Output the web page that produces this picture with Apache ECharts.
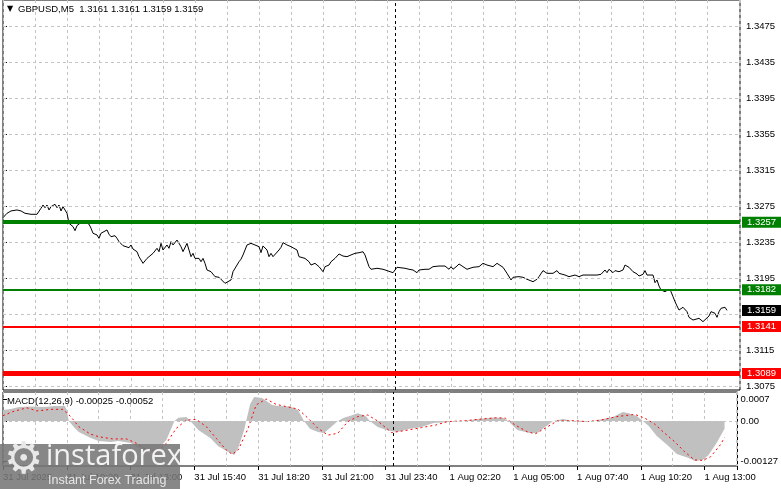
<!DOCTYPE html>
<html><head><meta charset="utf-8">
<script src="https://cdn.jsdelivr.net/npm/echarts@6.0.0/dist/echarts.min.js"></script>
<style>html,body{margin:0;padding:0;background:#fff}#c{width:781px;height:489px}</style>
</head><body><div id="c"></div>
<script>
// ---------------- data ----------------
const timeLabels = ['31 Jul 2025','31 Jul 10:20','31 Jul 13:00','31 Jul 15:40','31 Jul 18:20','31 Jul 21:00','31 Jul 23:40','1 Aug 02:20','1 Aug 05:00','1 Aug 07:40','1 Aug 10:20','1 Aug 13:00'];
// bar index (M5 bars from 31 Jul 07:40) and close price
const priceBars = [0,2,4,5,7,8,9,11,14,15,17,18,19,20,21,22,23,24,26,27,28,29,30,31,32,33,34,35,36,37,38,40,41,43,44,45,47,48,49,50,52,53,54,56,57,58,60,61,63,64,65,67,68,70,72,73,75,76,77,78,79,80,82,83,84,85,87,88,89,90,92,93,94,95,96,98,99,100,101,102,104,106,108,109,111,112,114,115,118,119,120,121,122,124,126,128,129,130,132,133,134,135,138,139,140,142,144,147,148,151,153,154,156,158,160,161,163,164,166,168,170,172,174,176,178,180,181,183,184,185,187,188,190,192,193,195,196,197,198,201,203,205,207,208,211,213,215,218,219,221,223,224,225,227,228,230,232,233,235,238,240,242,243,245,247,248,250,252,254,255,258,259,260,262,263,265,267,268,270,272,273,275,277,278,281,283,284,286,287,288,290,293,295,297,299,301,302,303,305,306,308,310,311,313,314,315,317,318,320,321,322,323,325,326,327,328,329,330,331,333,334,335,336,337,338,340,341,342,343,345,346,348,349,350,351,353,354,355,356,357,358,359,361,362];
const priceValues = [1.32620,1.32669,1.32695,1.32687,1.32706,1.32687,1.32695,1.32669,1.32658,1.32650,1.32658,1.32669,1.32725,1.32761,1.32731,1.32761,1.32706,1.32743,1.32769,1.32731,1.32761,1.32695,1.32743,1.32725,1.32669,1.32558,1.32539,1.32521,1.32476,1.32532,1.32548,1.32584,1.32573,1.32548,1.32503,1.32447,1.32428,1.32391,1.32447,1.32428,1.32484,1.32436,1.32409,1.32420,1.32391,1.32354,1.32309,1.32325,1.32287,1.32317,1.32272,1.32242,1.32187,1.32113,1.32168,1.32187,1.32224,1.32206,1.32280,1.32242,1.32335,1.32261,1.32317,1.32280,1.32354,1.32317,1.32372,1.32354,1.32298,1.32243,1.32335,1.32261,1.32187,1.32224,1.32168,1.32168,1.32131,1.32168,1.32113,1.32039,1.32020,1.31965,1.31958,1.31947,1.31891,1.31880,1.31928,1.32020,1.32131,1.32159,1.32206,1.32187,1.32317,1.32335,1.32317,1.32298,1.32232,1.32306,1.32261,1.32187,1.32224,1.32187,1.32261,1.32291,1.32343,1.32317,1.32298,1.32261,1.32187,1.32168,1.32131,1.32094,1.32113,1.32076,1.32020,1.32076,1.32094,1.32131,1.32168,1.32217,1.32194,1.32187,1.32206,1.32224,1.32231,1.32242,1.32206,1.32076,1.32047,1.32069,1.32058,1.32069,1.32047,1.32032,1.32039,1.32009,1.32020,1.32069,1.32058,1.32058,1.32047,1.32039,1.32009,1.32039,1.32047,1.32047,1.32076,1.32083,1.32069,1.32083,1.32047,1.32076,1.32047,1.32083,1.32106,1.32076,1.32047,1.32069,1.32069,1.32076,1.32113,1.32094,1.32106,1.32076,1.32113,1.32094,1.32069,1.32002,1.31928,1.31958,1.31965,1.31947,1.31958,1.31936,1.31928,1.31909,1.31936,1.31965,1.32032,1.32002,1.32009,1.32002,1.32032,1.32002,1.31983,1.31965,1.31965,1.31983,1.32002,1.31965,1.31983,1.31983,1.31983,1.31983,1.31991,1.32039,1.32009,1.32047,1.32009,1.32032,1.32020,1.32039,1.32094,1.32069,1.32047,1.32020,1.31995,1.31972,1.31991,1.32032,1.31983,1.31991,1.31983,1.31898,1.31928,1.31861,1.31817,1.31825,1.31798,1.31825,1.31798,1.31743,1.31687,1.31639,1.31594,1.31625,1.31639,1.31576,1.31513,1.31483,1.31476,1.31502,1.31483,1.31465,1.31476,1.31528,1.31576,1.31587,1.31558,1.31513,1.31576,1.31613,1.31625,1.31590];
const macdBars = [0,4,8,14,21,26,31,32,33,36,38,44,48,54,58,64,68,74,78,82,86,88,92,94,98,104,108,114,116,118,121,122,124,126,130,132,135,138,144,148,151,154,158,161,164,168,171,174,178,182,184,188,194,198,204,210,216,224,234,238,246,251,254,258,264,268,272,276,281,286,291,296,301,306,311,314,318,321,324,328,334,338,344,347,351,354,358,362];
const macdValues = [0.00035,0.00038,0.000445,0.00046,0.000445,0.00048,0.00048,0.00035,0,-0.00022,-0.00035,-0.00054,-0.00064,-0.00067,-0.00064,-0.0007,-0.00086,-0.00099,-0.00089,-0.0006,0,0.0001,0.00013,0,-0.00029,-0.00054,-0.0008,-0.00102,-0.00108,-0.00086,-0.00029,0,0.00054,0.00076,0.00073,0.00064,0.00051,0.00048,0.00046,0.00035,0,-0.00025,-0.00035,-0.00038,-0.00022,0,0.0001,0.00016,0.00025,0.00016,0,-0.00019,-0.00032,-0.00035,-0.00025,-0.00019,-0.00006,-0.00003,0.00002,0.00006,0.00011,0.0001,-0.00003,-0.00029,-0.00038,-0.00038,-0.00019,0,0.00006,0,-0.00003,0,0.00006,0.00013,0.00029,0.00025,0.00016,0,-0.00016,-0.00048,-0.0008,-0.00105,-0.00118,-0.00127,-0.00124,-0.00108,-0.0007,-0.00025];
const signalBars = [0,5,12,17,24,30,34,38,44,48,55,62,67,72,77,82,87,92,97,102,107,112,115,118,123,127,132,137,142,148,153,158,163,168,173,178,183,188,195,203,210,217,223,232,238,247,252,257,263,267,272,278,287,293,300,308,317,322,327,332,337,342,347,351,355,360,362];
const signalValues = [0.00017,0.0003,0.00042,0.00032,0.00037,0.00037,0.00014,-0.00018,-0.00042,-0.0005,-0.00057,-0.00057,-0.00071,-0.00092,-0.00098,-0.00071,-0.00023,0.00003,0.00005,-0.00018,-0.00055,-0.00092,-0.00106,-0.00092,-0.00023,0.00051,0.0007,0.00053,0.00046,0.00038,0.00009,-0.00023,-0.00045,-0.00039,-0.00002,0.00014,0.00019,0,-0.00037,-0.00029,-0.00021,-0.00013,-0.00002,0.00001,0.00005,0.0001,0.00009,-0.00013,-0.00034,-0.00041,-0.00023,0,0.00001,-0.00002,0.00003,0.00014,0.00021,0.00009,-0.0001,-0.00039,-0.00066,-0.00098,-0.00124,-0.00125,-0.00114,-0.00075,-0.00052];
const gridLevels = [1.3475,1.3435,1.3395,1.3355,1.3315,1.3275,1.3235,1.3195,1.3155,1.3115,1.3075];
const priceTickLabels = [1.3475,1.3435,1.3395,1.3355,1.3315,1.3275,1.3235,1.3195,1.3115,1.3075];
const levelValues = [1.3257,1.3182,1.3141,1.3089];
const currentPrice = 1.3159;
const macdTickLabels = [0.0007,0,-0.00127];
const dayBreakBar = 196;
const titleText = 'GBPUSD,M5  1.3161 1.3161 1.3159 1.3159';
const macdText = 'MACD(12,26,9) -0.00025 -0.00052';

// ---------------- styles / layout ----------------
const FONT = '"Liberation Sans", Arial, sans-serif';
const levelStyles = [
  {color:'#008000', width:4},
  {color:'#008000', width:2},
  {color:'#ff0000', width:2},
  {color:'#ff0000', width:5}
];
const X_MAX = 368.5;
const Y_MIN = 1.307056, Y_MAX = 1.350389;
const M_MIN = -0.001431, M_MAX = 0.000922;
const gridDash = {show:true, lineStyle:{color:'#c4c4c4', type:[3,3], width:1}};
const zip = (a,b) => a.map((v,i)=>[v,b[i]]);
const boxLabel = (bg) => ({show:true, position:'end', distance:2, formatter:p=>Number(p.value).toFixed(4),
  backgroundColor:bg, color:'#fff', fontFamily:FONT, fontSize:9.5, lineHeight:10, padding:[1,5,0,5]});

const chart = echarts.init(document.getElementById('c'), null, {renderer:'canvas'});
const option = {
  animation:false,
  backgroundColor:'#fff',
  grid:[
    {left:3, right:41, top:0, height:390, show:true, borderColor:'#000', borderWidth:1, backgroundColor:'transparent'},
    {left:3, right:41, top:392, height:74, show:true, borderColor:'#000', borderWidth:1, backgroundColor:'transparent'}
  ],
  xAxis:[
    {type:'value', gridIndex:0, min:0, max:X_MAX, interval:16, axisLine:{show:false}, axisTick:{show:false}, axisLabel:{show:false}, splitLine:gridDash},
    {type:'value', gridIndex:1, position:'top', min:0, max:X_MAX, interval:16, axisLine:{show:false}, axisTick:{show:false}, axisLabel:{show:false}, splitLine:gridDash},
    {type:'value', gridIndex:1, position:'bottom', min:0, max:X_MAX, interval:32, axisLine:{show:false},
      axisTick:{show:true, length:4, lineStyle:{color:'#000'}}, splitLine:{show:false},
      axisLabel:{show:true, align:'left', margin:6, fontFamily:FONT, fontSize:9.5, color:'#000',
        formatter:v => (v%32===0 && v/32 < timeLabels.length) ? timeLabels[v/32] : ''}}
  ],
  yAxis:[
    {type:'value', gridIndex:0, position:'right', min:Y_MIN, max:Y_MAX, axisLine:{show:false}, splitLine:{show:false},
      axisTick:{show:true, length:4, customValues:priceTickLabels, lineStyle:{color:'#000'}},
      axisLabel:{show:true, customValues:priceTickLabels, margin:6, fontFamily:FONT, fontSize:9.5, color:'#000', formatter:v=>v.toFixed(4)}},
    {type:'value', gridIndex:1, position:'right', min:M_MIN, max:M_MAX, axisLine:{show:false}, splitLine:{show:false},
      axisTick:{show:true, length:4, customValues:macdTickLabels, lineStyle:{color:'#000'}},
      axisLabel:{show:true, customValues:macdTickLabels, margin:3, fontFamily:FONT, fontSize:9.5, color:'#000', formatter:v=> v===0 ? '0.00' : String(v)}}
  ],
  series:[
    {type:'line', name:'hgrid', xAxisIndex:0, yAxisIndex:0, data:[], z:1, silent:true,
      markLine:{silent:true, precision:6, symbol:'none', label:{show:false}, lineStyle:{color:'#c4c4c4', type:[3,3], width:1},
        data:gridLevels.map(v=>({yAxis:v}))}},
    {type:'line', name:'price', xAxisIndex:0, yAxisIndex:0, data:zip(priceBars, priceValues), showSymbol:false,
      lineStyle:{color:'#000', width:1}, z:3, silent:true,
      markLine:{silent:true, precision:6, symbol:'none', label:{show:false}, lineStyle:{color:'#000', type:[3,3], width:1},
        data:[{xAxis:dayBreakBar}]}},
    {type:'line', name:'levels', xAxisIndex:0, yAxisIndex:0, data:[], z:4, silent:true,
      markLine:{silent:true, precision:6, symbol:'none',
        data: levelValues.map((v,i)=>({yAxis:v, lineStyle:{color:levelStyles[i].color, width:levelStyles[i].width, type:'solid'}, label:boxLabel(levelStyles[i].color)}))
          .concat([{yAxis:currentPrice, lineStyle:{color:'rgba(0,0,0,0)', width:1, type:'solid'}, label:boxLabel('#000')}])}},
    {type:'line', name:'macd', xAxisIndex:1, yAxisIndex:1, data:zip(macdBars, macdValues), showSymbol:false,
      lineStyle:{opacity:0, width:0}, areaStyle:{color:'#c0c0c0', opacity:1}, z:2, silent:true,
      markLine:{silent:true, precision:6, symbol:'none', label:{show:false},
        data:[{yAxis:0, lineStyle:{color:'#c4c4c4', type:[3,3], width:1}},
              {xAxis:dayBreakBar, lineStyle:{color:'#000', type:[3,3], width:1}}]}},
    {type:'line', name:'signal', xAxisIndex:1, yAxisIndex:1, data:zip(signalBars, signalValues), showSymbol:false,
      lineStyle:{color:'#ff0000', width:1, type:[2,3]}, z:3, silent:true}
  ],
  graphic:[
    {type:'text', left:7, top:5, z:50, style:{text:'▼', font:'8px "DejaVu Sans"', fill:'#000'}},
    {type:'text', left:18, top:4, z:50, style:{text:titleText, font:'9.5px '+FONT, fill:'#000'}},
    {type:'text', left:7, top:396, z:50, style:{text:macdText, font:'9.5px '+FONT, fill:'#000'}},
    {type:'rect', z:60, shape:{x:0, y:444, width:180, height:45}, style:{fill:'rgba(118,118,118,0.88)'}},
    {type:'text', z:61, x:4, y:440, style:{text:'⚙', font:'44px "DejaVu Sans"', fill:'#e8e8e8'}},
    {type:'text', z:61, x:46, y:442, style:{text:'instaforex', font:'29px "Open Sans", "Liberation Sans", sans-serif', fill:'#f2f2f2'}},
    {type:'text', z:61, x:48, y:474, style:{text:'Instant Forex Trading', font:'12.5px "Liberation Sans", Arial, sans-serif', fill:'#e6e6e6'}}
  ]
};
chart.setOption(option);
</script>
</body></html>
